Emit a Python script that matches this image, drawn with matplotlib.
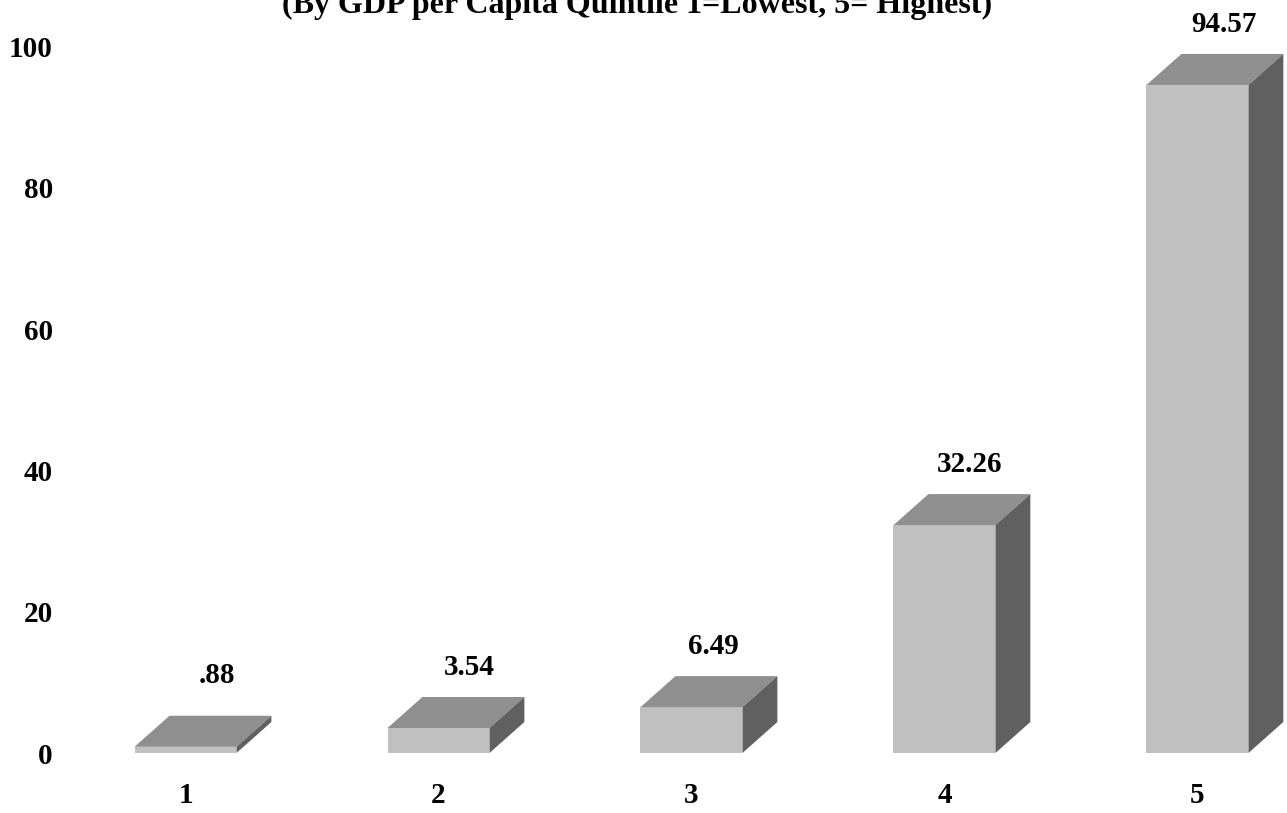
import matplotlib
matplotlib.use('Agg')
import matplotlib.pyplot as plt
from matplotlib.patches import Polygon

quintiles = [1, 2, 3, 4, 5]
values = [0.88, 3.54, 6.49, 32.26, 94.57]
value_labels = ['.88', '3.54', '6.49', '32.26', '94.57']
y_ticks = [0, 20, 40, 60, 80, 100]
title = '(By GDP per Capita Quintile 1=Lowest, 5= Highest)'

plt.rcParams['font.family'] = ['Liberation Serif', 'DejaVu Serif']
plt.rcParams['font.weight'] = 'bold'

W, H = 1287, 813
fig = plt.figure(figsize=(W / 100, H / 100), dpi=100)
ax = fig.add_axes([100 / W, 60 / H, 1187 / W, 706.4 / H])
ax.set_xlim(0.662, 5.354)
ax.set_ylim(0, 100)

bar_w = 0.403
dx = 0.138   # depth of the 3d effect, x units
dy = 4.39    # depth of the 3d effect, y units

ax.bar(quintiles, values, width=bar_w, color='#c0c0c0', linewidth=0, zorder=3)
for q, v in zip(quintiles, values):
    l, r = q - bar_w / 2, q + bar_w / 2
    ax.add_patch(Polygon([(l, v), (r, v), (r + dx, v + dy), (l + dx, v + dy)],
                         closed=True, fc='#8f8f8f', ec='none', clip_on=False, zorder=3))
    ax.add_patch(Polygon([(r, 0), (r + dx, dy), (r + dx, v + dy), (r, v)],
                         closed=True, fc='#606060', ec='none', clip_on=False, zorder=3))

# labels sit up and to the right of the bar, offsets in points
label_dx = [23, 22, 16, 18, 19]
label_dy = [29, 21, 21, 21, 21]
for q, v, s, ox, oy in zip(quintiles, values, value_labels, label_dx, label_dy):
    ax.annotate(s, (q, v + dy), xytext=(ox, oy), textcoords='offset points',
                ha='center', va='center', fontsize=21, fontweight='bold',
                annotation_clip=False)

ax.set_xticks(quintiles)
ax.set_yticks(y_ticks)
ax.tick_params(axis='both', length=0, labelsize=21)
ax.tick_params(axis='x', pad=21)
ax.tick_params(axis='y', pad=34)
for s in ax.spines.values():
    s.set_visible(False)

# the title runs off the top edge in the original too
fig.text(637 / W, 1 - 13.5 / H, title, ha='center', va='baseline', fontsize=23, fontweight='bold')

fig.savefig('out.png', dpi=100)
